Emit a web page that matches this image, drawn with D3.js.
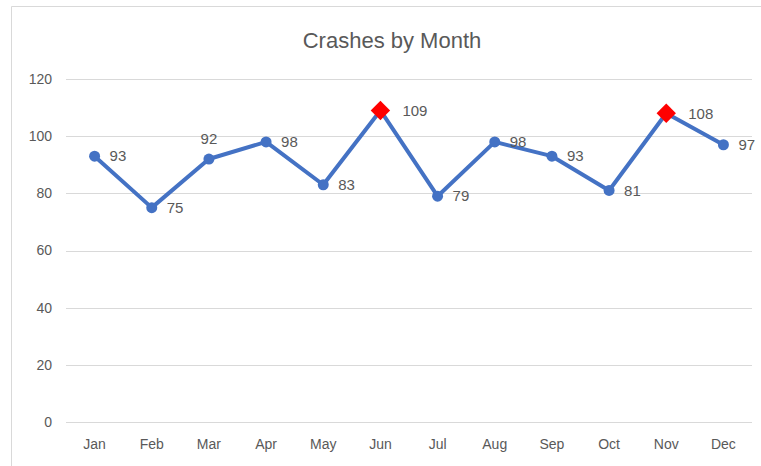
<html>
<head>
  <script src="https://d3js.org/d3.v7.min.js"></script>
  <style>
    body { margin: 0; background: #fff; }
    text { font-family: "Liberation Sans", Arial, sans-serif; fill: #595959; }
  </style>
</head>
<body>
  <svg id="chart" width="761" height="466"></svg>
  <script>
    // data
    const months = ['Jan', 'Feb', 'Mar', 'Apr', 'May', 'Jun', 'Jul', 'Aug', 'Sep', 'Oct', 'Nov', 'Dec'];
    const crashes = [93, 75, 92, 98, 83, 109, 79, 98, 93, 81, 108, 97];
    const highlighted = ['Jun', 'Nov'];
    const labelAbove = ['Mar'];
    const yTicks = [0, 20, 40, 60, 80, 100, 120];

    const svg = d3.select('#chart');
    const data = months.map((m, i) => ({ month: m, value: crashes[i] }));

    // chart frame (left + top edges)
    svg.append('path')
      .attr('d', 'M11.5,466 V6.5 H761')
      .attr('fill', 'none')
      .attr('stroke', '#d9d9d9');

    svg.append('text')
      .attr('x', 392).attr('y', 48)
      .attr('text-anchor', 'middle')
      .style('font-size', '22px')
      .text('Crashes by Month');

    const x = d3.scaleBand().domain(months).range([66, 752]);
    const y = d3.scaleLinear().domain([0, 120]).range([422, 79]);

    // gridlines
    svg.append('g').selectAll('line').data(yTicks).join('line')
      .attr('x1', 66).attr('x2', 752)
      .attr('y1', d => Math.round(y(d)) + 0.5)
      .attr('y2', d => Math.round(y(d)) + 0.5)
      .attr('stroke', '#d9d9d9');

    svg.append('g').selectAll('text').data(yTicks).join('text')
      .attr('x', 52).attr('y', d => y(d))
      .attr('dy', '0.35em')
      .attr('text-anchor', 'end')
      .style('font-size', '14px')
      .text(d => d);

    svg.append('g').selectAll('text').data(months).join('text')
      .attr('x', d => x(d) + x.bandwidth() / 2)
      .attr('y', 449)
      .attr('text-anchor', 'middle')
      .style('font-size', '14px')
      .text(d => d);

    const cx = d => x(d.month) + x.bandwidth() / 2;

    const line = d3.line().x(cx).y(d => y(d.value));
    svg.append('path')
      .datum(data)
      .attr('d', line)
      .attr('fill', 'none')
      .attr('stroke', '#4472c4')
      .attr('stroke-width', 4)
      .attr('stroke-linejoin', 'round');

    svg.append('g').selectAll('circle')
      .data(data.filter(d => !highlighted.includes(d.month)))
      .join('circle')
      .attr('cx', cx).attr('cy', d => y(d.value))
      .attr('r', 5.5)
      .attr('fill', '#4472c4');

    svg.append('g').selectAll('path')
      .data(data.filter(d => highlighted.includes(d.month)))
      .join('path')
      .attr('d', d3.symbol(d3.symbolDiamond2, 240))
      .attr('transform', d => `translate(${cx(d)},${y(d.value)})`)
      .attr('fill', '#ff0000');

    svg.append('g').selectAll('text')
      .data(data)
      .join('text')
      .attr('x', d => labelAbove.includes(d.month) ? cx(d) : cx(d) + (highlighted.includes(d.month) ? 22 : 15))
      .attr('y', d => labelAbove.includes(d.month) ? y(d.value) - 20 : y(d.value))
      .attr('dy', '0.35em')
      .attr('text-anchor', d => labelAbove.includes(d.month) ? 'middle' : 'start')
      .style('font-size', '15px')
      .text(d => d.value);
  </script>
</body>
</html>
